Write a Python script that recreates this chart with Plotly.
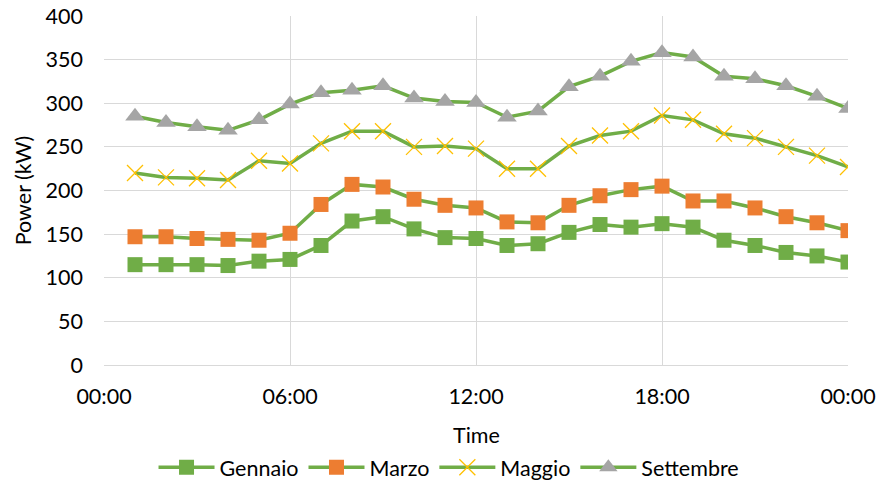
import plotly.graph_objects as go

# Hourly load profiles (kW) for four representative months
hours = list(range(1, 25))
gennaio = [115, 115, 115, 114, 119, 121, 137, 165, 170, 156, 146, 145,
           137, 139, 152, 161, 158, 162, 158, 143, 137, 129, 125, 118]
marzo = [147, 147, 145, 144, 143, 151, 184, 207, 204, 190, 183, 180,
         164, 163, 183, 194, 201, 205, 188, 188, 180, 170, 163, 154]
maggio = [220, 215, 214, 212, 234, 231, 254, 268, 268, 250, 251, 248,
          225, 225, 251, 263, 268, 286, 281, 265, 260, 250, 240, 227]
settembre = [285, 278, 273, 269, 281, 299, 312, 315, 320, 306, 302, 301,
             284, 291, 319, 331, 348, 358, 353, 331, 328, 320, 308, 294]

tick_vals = [0, 6, 12, 18, 24]
tick_text = ["00:00", "06:00", "12:00", "18:00", "00:00"]

LINE = "#70AD47"
FONT = "Lato"
FS = 21.5

series = [
    ("Gennaio", gennaio, dict(symbol="square", size=15, color="#70AD47")),
    ("Marzo", marzo, dict(symbol="square", size=15, color="#ED7D31")),
    ("Maggio", maggio, dict(symbol="x-thin-open", size=16, color="#FFC000",
                            line=dict(color="#FFC000", width=1.3))),
    ("Settembre", settembre, dict(symbol="triangle-up", size=17, color="#A5A5A5")),
]

fig = go.Figure()
for name, vals, marker in series:
    fig.add_trace(go.Scatter(
        x=hours, y=vals, name=name, mode="lines+markers",
        line=dict(color=LINE, width=3.5),
        marker=marker,
    ))

fig.update_layout(
    width=877, height=482,
    margin=dict(l=104, r=29, t=16, b=117),
    paper_bgcolor="white", plot_bgcolor="white",
    font=dict(family=FONT, size=FS, color="#000000"),
    showlegend=True,
    legend=dict(orientation="h",
                xref="container", x=0.512, xanchor="center",
                yref="container", y=0.073, yanchor="top",
                font=dict(size=FS), itemwidth=56, tracegroupgap=0),
    xaxis=dict(
        range=[0, 24], tickvals=tick_vals, ticktext=tick_text,
        showgrid=True, gridcolor="#D9D9D9", gridwidth=1.3,
        zeroline=False, showline=True, linecolor="#D9D9D9", linewidth=1.3,
        ticks="", ticklabelstandoff=12, automargin=False,
    ),
    yaxis=dict(
        range=[0, 400], dtick=50,
        showgrid=True, gridcolor="#D9D9D9", gridwidth=1.3,
        zeroline=False, showline=False, ticks="", ticklabelstandoff=20,
        automargin=False,
        title=dict(text="Power (kW)", font=dict(size=FS), standoff=8),
    ),
    # x-axis title placed below the tick labels
    annotations=[dict(
        text="Time", xref="paper", yref="paper", x=0.5, y=-0.2,
        xanchor="center", yanchor="middle", showarrow=False,
        font=dict(size=FS),
    )],
)

fig.write_html("out.html")
